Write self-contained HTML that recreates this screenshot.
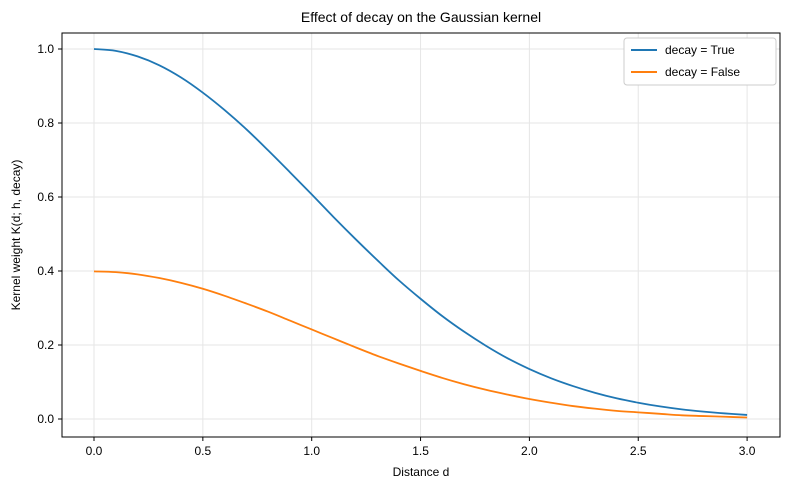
<!DOCTYPE html>
<html><head><meta charset="utf-8"><style>
body{margin:0;background:#fff;}
svg{display:block;font-family:"Liberation Sans","DejaVu Sans",sans-serif;}
</style></head><body>
<svg id="chart" width="790" height="490">
<rect width="790" height="490" fill="#fff"/>
<text x="421" y="22" text-anchor="middle" font-size="14">Effect of decay on the Gaussian kernel</text>
<g id="grid"></g>
<g id="ticks"></g>
<g id="series"></g>
<rect x="62" y="33" width="718" height="404" fill="none" stroke="#000" stroke-width="1"/>
<text x="421" y="476" text-anchor="middle" font-size="12">Distance d</text>
<text x="20" y="235" text-anchor="middle" font-size="12" transform="rotate(-90 20 235)">Kernel weight K(d; h, decay)</text>
<g>
<rect x="624" y="38" width="152" height="47" fill="#fff" stroke="#ccc" rx="3"/>
<line x1="631" y1="50" x2="657" y2="50" stroke="#1f77b4" stroke-width="2"/>
<text x="665" y="54" font-size="12">decay = True</text>
<line x1="631" y1="72" x2="657" y2="72" stroke="#ff7f0e" stroke-width="2"/>
<text x="665" y="76" font-size="12">decay = False</text>
</g>
</svg>
<script>
const distances=[0,0.1,0.2,0.3,0.4,0.5,0.6,0.7,0.8,0.9,1.0,1.1,1.2,1.3,1.4,1.5,1.6,1.7,1.8,1.9,2.0,2.1,2.2,2.3,2.4,2.5,2.6,2.7,2.8,2.9,3.0];
const decayTrue=[1,0.995,0.980,0.956,0.923,0.882,0.835,0.783,0.726,0.667,0.607,0.546,0.487,0.430,0.375,0.325,0.278,0.236,0.198,0.164,0.135,0.110,0.089,0.071,0.056,0.044,0.034,0.026,0.020,0.015,0.011];
const decayFalse=[0.399,0.397,0.391,0.381,0.368,0.352,0.333,0.312,0.290,0.266,0.242,0.218,0.194,0.171,0.150,0.130,0.111,0.094,0.079,0.066,0.054,0.044,0.035,0.028,0.022,0.018,0.014,0.010,0.008,0.006,0.004];
const xTicks=[0,0.5,1.0,1.5,2.0,2.5,3.0];
const xTickLabels=["0.0","0.5","1.0","1.5","2.0","2.5","3.0"];
const yTicks=[0,0.2,0.4,0.6,0.8,1.0];
const yTickLabels=["0.0","0.2","0.4","0.6","0.8","1.0"];
const NS="http://www.w3.org/2000/svg";
const xs=v=>94+v*217.7;
const ys=v=>419-v*370;
function mk(tag,attrs,parent){const e=document.createElementNS(NS,tag);for(const k in attrs)e.setAttribute(k,attrs[k]);parent.appendChild(e);return e;}
const grid=document.getElementById('grid'),ticks=document.getElementById('ticks'),ser=document.getElementById('series');
xTicks.forEach((t,i)=>{
 const g=mk('line',{x1:xs(t),x2:xs(t),y1:33,y2:437,stroke:'#e6e6e6','stroke-width':1},grid);
 
 
 mk('line',{x1:xs(t),x2:xs(t),y1:437,y2:441,stroke:'#000'},ticks);
 const l=mk('text',{x:xs(t),y:455,'text-anchor':'middle','font-size':12},ticks);
 l.textContent=xTickLabels[i];
 
 
});
yTicks.forEach((t,i)=>{
 const g=mk('line',{x1:62,x2:780,y1:ys(t),y2:ys(t),stroke:'#e6e6e6','stroke-width':1},grid);
 
 
 mk('line',{x1:58,x2:62,y1:ys(t),y2:ys(t),stroke:'#000'},ticks);
 const l=mk('text',{x:54,y:ys(t)+4,'text-anchor':'end','font-size':12},ticks);
 l.textContent=yTickLabels[i];
 
 
});
function line(vals,color,name){
 const P=distances.map((d,i)=>[xs(d),ys(vals[i])]);
 let dstr='M'+P[0][0].toFixed(2)+','+P[0][1].toFixed(2);
 for(let i=0;i<P.length-1;i++){
  const p0=P[Math.max(0,i-1)],p1=P[i],p2=P[i+1],p3=P[Math.min(P.length-1,i+2)];
  const c1=[p1[0]+(p2[0]-p0[0])/6,p1[1]+(p2[1]-p0[1])/6];
  const c2=[p2[0]-(p3[0]-p1[0])/6,p2[1]-(p3[1]-p1[1])/6];
  dstr+=' C'+c1[0].toFixed(2)+','+c1[1].toFixed(2)+' '+c2[0].toFixed(2)+','+c2[1].toFixed(2)+' '+p2[0].toFixed(2)+','+p2[1].toFixed(2);
 }
 const p=mk('path',{d:dstr,fill:'none',stroke:color,'stroke-width':1.8,'stroke-linejoin':'round'},ser);
 
 
}
line(decayTrue,'#1f77b4','line-decay-true');
line(decayFalse,'#ff7f0e','line-decay-false');
</script>
</body></html>
